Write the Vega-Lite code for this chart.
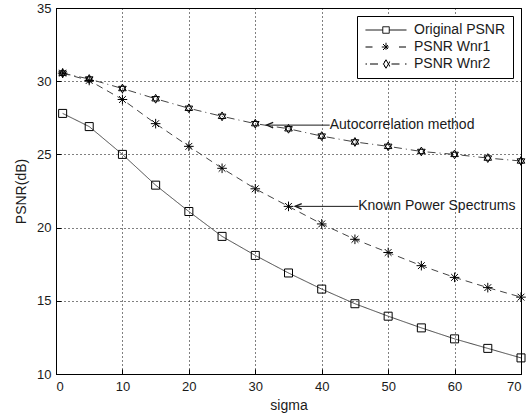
{
  "$schema": "https://vega.github.io/schema/vega-lite/v6.json",
  "width": 465,
  "height": 366,
  "autosize": {"type": "none"},
  "padding": {"left": 56, "top": 8, "right": 10, "bottom": 40},
  "background": "white",
  "config": {
    "font": "Liberation Sans",
    "view": {"stroke": "black", "strokeWidth": 1},
    "axis": {
      "domainColor": "black",
      "tickColor": "black",
      "labelColor": "#1a1a1a",
      "titleColor": "#1a1a1a",
      "labelFont": "Liberation Sans",
      "titleFont": "Liberation Sans",
      "labelFontSize": 13,
      "titleFontSize": 14,
      "titleFontWeight": "normal",
      "gridColor": "black",
      "gridDash": [1, 3],
      "gridOpacity": 1,
      "gridWidth": 1
    },
    "legend": {
      "orient": "top-right",
      "offset": 8,
      "strokeColor": "black",
      "fillColor": "white",
      "padding": 7,
      "labelFont": "Liberation Sans",
      "labelFontSize": 14,
      "labelColor": "#1a1a1a",
      "symbolSize": 100,
      "symbolStrokeWidth": 1,
      "symbolStrokeColor": "black",
      "symbolFillColor": "transparent",
      "symbolOffset": 15,
      "labelOffset": 21,
      "rowPadding": 3
    }
  },
  "datasets": {
    "curves": [
      {"sigma": 1, "psnr": 27.8, "series": "Original PSNR"},
      {"sigma": 5, "psnr": 26.9, "series": "Original PSNR"},
      {"sigma": 10, "psnr": 25.0, "series": "Original PSNR"},
      {"sigma": 15, "psnr": 22.9, "series": "Original PSNR"},
      {"sigma": 20, "psnr": 21.1, "series": "Original PSNR"},
      {"sigma": 25, "psnr": 19.4, "series": "Original PSNR"},
      {"sigma": 30, "psnr": 18.1, "series": "Original PSNR"},
      {"sigma": 35, "psnr": 16.9, "series": "Original PSNR"},
      {"sigma": 40, "psnr": 15.8, "series": "Original PSNR"},
      {"sigma": 45, "psnr": 14.8, "series": "Original PSNR"},
      {"sigma": 50, "psnr": 13.95, "series": "Original PSNR"},
      {"sigma": 55, "psnr": 13.15, "series": "Original PSNR"},
      {"sigma": 60, "psnr": 12.4, "series": "Original PSNR"},
      {"sigma": 65, "psnr": 11.75, "series": "Original PSNR"},
      {"sigma": 70, "psnr": 11.1, "series": "Original PSNR"},
      {"sigma": 1, "psnr": 30.55, "series": "PSNR Wnr1"},
      {"sigma": 5, "psnr": 30.05, "series": "PSNR Wnr1"},
      {"sigma": 10, "psnr": 28.75, "series": "PSNR Wnr1"},
      {"sigma": 15, "psnr": 27.1, "series": "PSNR Wnr1"},
      {"sigma": 20, "psnr": 25.55, "series": "PSNR Wnr1"},
      {"sigma": 25, "psnr": 24.05, "series": "PSNR Wnr1"},
      {"sigma": 30, "psnr": 22.65, "series": "PSNR Wnr1"},
      {"sigma": 35, "psnr": 21.45, "series": "PSNR Wnr1"},
      {"sigma": 40, "psnr": 20.25, "series": "PSNR Wnr1"},
      {"sigma": 45, "psnr": 19.2, "series": "PSNR Wnr1"},
      {"sigma": 50, "psnr": 18.3, "series": "PSNR Wnr1"},
      {"sigma": 55, "psnr": 17.4, "series": "PSNR Wnr1"},
      {"sigma": 60, "psnr": 16.6, "series": "PSNR Wnr1"},
      {"sigma": 65, "psnr": 15.9, "series": "PSNR Wnr1"},
      {"sigma": 70, "psnr": 15.25, "series": "PSNR Wnr1"},
      {"sigma": 1, "psnr": 30.55, "series": "PSNR Wnr2"},
      {"sigma": 5, "psnr": 30.15, "series": "PSNR Wnr2"},
      {"sigma": 10, "psnr": 29.5, "series": "PSNR Wnr2"},
      {"sigma": 15, "psnr": 28.8, "series": "PSNR Wnr2"},
      {"sigma": 20, "psnr": 28.15, "series": "PSNR Wnr2"},
      {"sigma": 25, "psnr": 27.6, "series": "PSNR Wnr2"},
      {"sigma": 30, "psnr": 27.1, "series": "PSNR Wnr2"},
      {"sigma": 35, "psnr": 26.75, "series": "PSNR Wnr2"},
      {"sigma": 40, "psnr": 26.25, "series": "PSNR Wnr2"},
      {"sigma": 45, "psnr": 25.85, "series": "PSNR Wnr2"},
      {"sigma": 50, "psnr": 25.55, "series": "PSNR Wnr2"},
      {"sigma": 55, "psnr": 25.2, "series": "PSNR Wnr2"},
      {"sigma": 60, "psnr": 25.0, "series": "PSNR Wnr2"},
      {"sigma": 65, "psnr": 24.75, "series": "PSNR Wnr2"},
      {"sigma": 70, "psnr": 24.55, "series": "PSNR Wnr2"}
    ],
    "notes": [
      {"tip": 31.7, "end": 41.2, "psnr": 27.0, "label": "Autocorrelation method"},
      {"tip": 36.0, "end": 45.5, "psnr": 21.45, "label": "Known Power Spectrums"}
    ]
  },
  "layer": [
    {
      "data": {"name": "curves"},
      "mark": {"type": "line", "strokeWidth": 1, "color": "#444"},
      "encoding": {
        "x": {"field": "sigma", "type": "quantitative", "scale": {"domain": [0, 70], "nice": false},
          "axis": {"title": "sigma", "values": [0, 10, 20, 30, 40, 50, 60, 70], "grid": true, "ticks": true, "tickSize": -5, "labelPadding": 11, "titlePadding": 5}},
        "y": {"field": "psnr", "type": "quantitative", "scale": {"domain": [10, 35], "nice": false, "zero": false},
          "axis": {"title": "PSNR(dB)", "values": [10, 15, 20, 25, 30, 35], "grid": true, "ticks": true, "tickSize": -5, "labelPadding": 10, "titlePadding": 8}},
        "strokeDash": {"field": "series", "type": "nominal",
          "scale": {"domain": ["Original PSNR", "PSNR Wnr1", "PSNR Wnr2"], "range": [[1, 0], [7, 5], [8, 4, 1, 4]]},
          "legend": {"title": null,
            "encode": {"symbols": {"update": {
              "shape": {"signal": "datum.value === 'Original PSNR' ? 'M-4.1,0L-0.65,0M0.65,0L4.1,0M-0.65,-0.65L0.65,-0.65L0.65,0.65L-0.65,0.65Z' : (datum.value === 'PSNR Wnr1' ? 'M-4.1,0L-2.6,0M2.6,0L4.1,0M0,-0.85L0,0.85M-0.85,0L0.85,0M-0.6,-0.6L0.6,0.6M-0.6,0.6L0.6,-0.6' : 'M-4.1,0L-3.8,0M-3.2,0L-1.1,0M1.1,0L3.2,0M3.8,0L4.1,0M0,-0.85L0.74,0.43L-0.74,0.43ZM0,0.85L0.74,-0.43L-0.74,-0.43Z')"},
              "strokeDash": {"value": [1, 0]},
              "stroke": {"value": "black"},
              "fill": {"value": "transparent"}
            }}}}
        }
      }
    },
    {
      "data": {"name": "curves"},
      "mark": {"type": "point", "filled": false, "color": "black", "strokeWidth": 1, "size": 64, "opacity": 1},
      "encoding": {
        "x": {"field": "sigma", "type": "quantitative"},
        "y": {"field": "psnr", "type": "quantitative"},
        "shape": {
          "condition": [
            {"test": "datum.series === 'PSNR Wnr1'", "value": "M0,-1.2L0,1.2M-1.2,0L1.2,0M-0.85,-0.85L0.85,0.85M-0.85,0.85L0.85,-0.85"},
            {"test": "datum.series === 'PSNR Wnr2'", "value": "M0,-1.1L0.95,0.55L-0.95,0.55ZM0,1.1L0.95,-0.55L-0.95,-0.55Z"}
          ],
          "value": "square"
        }
      }
    },
    {
      "data": {"name": "notes"},
      "mark": {"type": "rule", "color": "#1a1a1a", "strokeWidth": 1},
      "encoding": {
        "x": {"field": "tip", "type": "quantitative"},
        "x2": {"field": "end"},
        "y": {"field": "psnr", "type": "quantitative"}
      }
    },
    {
      "data": {"name": "notes"},
      "mark": {"type": "point", "filled": false, "color": "#1a1a1a", "strokeWidth": 1.3, "size": 36, "opacity": 1,
        "shape": "M2.2,-0.9L0,0L2.2,0.9"},
      "encoding": {
        "x": {"field": "tip", "type": "quantitative"},
        "y": {"field": "psnr", "type": "quantitative"}
      }
    },
    {
      "data": {"name": "notes"},
      "mark": {"type": "text", "align": "left", "baseline": "middle", "fontSize": 14, "color": "#1a1a1a", "font": "Liberation Sans"},
      "encoding": {
        "x": {"field": "end", "type": "quantitative"},
        "y": {"field": "psnr", "type": "quantitative"},
        "text": {"field": "label"}
      }
    }
  ]
}
